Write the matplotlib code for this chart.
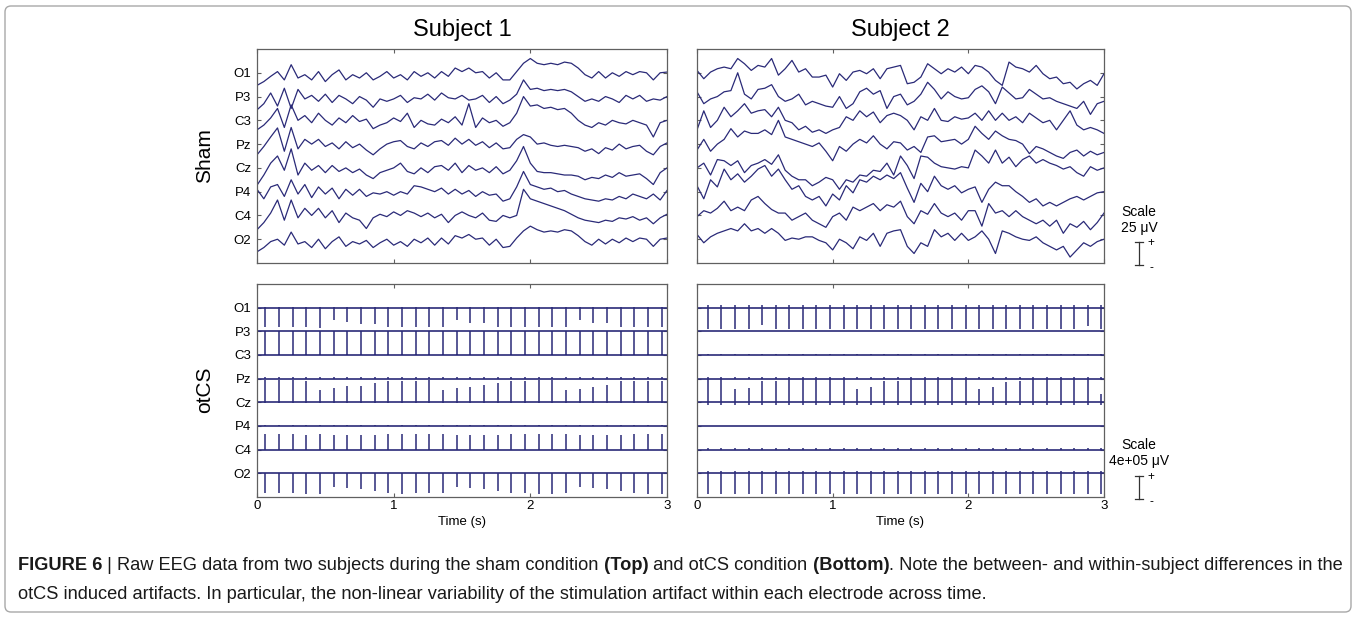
import numpy as np
import matplotlib
matplotlib.use("Agg")
import matplotlib.pyplot as plt
from matplotlib.patches import FancyBboxPatch
from matplotlib.lines import Line2D
from matplotlib.transforms import IdentityTransform

plt.rcParams['font.family'] = ['Liberation Sans', 'DejaVu Sans']

# ---------------- data ----------------
channels = ["O1", "P3", "C3", "Pz", "Cz", "P4", "C4", "O2"]
subjects = ["Subject 1", "Subject 2"]
conditions = ["Sham", "otCS"]
x_ticks = [0, 1, 2, 3]
duration = 3.0

# Sham EEG, deviation from channel baseline (in channel-spacing units), every 0.05 s
sham_s1_O1 = [-0.53,-0.37,-0.15,0.05,-0.3,0.34,-0.22,-0.08,-0.3,0.05,
              -0.37,-0.08,0.12,-0.3,-0.08,-0.22,0.0,-0.3,-0.15,0.05,
              -0.22,-0.08,-0.3,0.05,-0.15,0.0,-0.22,0.05,-0.15,0.2,
              0.05,0.2,0.0,0.05,-0.22,0.0,-0.3,-0.3,0.05,0.4,
              0.6,0.4,0.34,0.4,0.34,0.45,0.4,0.2,-0.08,-0.22,
              0.05,-0.22,0.0,-0.15,0.05,-0.08,0.05,0.0,-0.3,0.0,0.03]
sham_s1_P3 = [-0.56,-0.3,0.15,-0.4,0.35,-0.5,0.3,-0.1,0.05,-0.2,
              0.1,-0.25,0.05,-0.1,-0.3,0.0,-0.15,-0.45,-0.1,-0.2,
              -0.1,0.05,-0.25,-0.05,-0.1,0.1,-0.15,0.15,-0.05,-0.1,
              0.05,-0.15,-0.1,0.05,-0.25,0.0,-0.3,-0.15,0.1,0.7,
              0.3,0.35,0.25,0.3,0.25,0.3,0.2,0.0,-0.2,-0.1,
              -0.2,0.0,-0.1,-0.25,0.05,-0.1,0.05,-0.2,-0.1,-0.15,0.0]
sham_s1_C3 = [-0.4,-0.2,0.1,0.5,-0.3,0.65,0.0,0.2,-0.1,0.3,
              0.0,-0.2,0.1,-0.1,0.2,-0.05,0.05,-0.35,-0.2,-0.1,
              0.1,-0.05,0.3,-0.3,0.0,-0.15,-0.2,0.05,-0.1,0.15,
              -0.2,0.7,-0.3,0.1,-0.1,0.0,-0.25,-0.1,0.3,1.0,
              0.6,0.65,0.5,0.55,0.45,0.5,0.3,0.0,-0.2,-0.3,
              -0.1,-0.2,0.0,-0.1,-0.15,0.0,-0.1,-0.2,-0.7,-0.1,0.0]
sham_s1_Pz = [-0.45,-0.1,0.3,0.68,-0.3,0.7,-0.2,0.2,0.0,0.2,
              -0.1,0.05,-0.2,0.1,-0.15,0.0,-0.25,-0.45,-0.2,0.0,
              0.1,0.15,-0.1,-0.2,0.05,-0.1,0.1,0.15,-0.05,0.25,
              0.0,0.2,-0.05,0.1,-0.15,0.05,-0.2,-0.15,0.2,0.4,
              0.3,0.0,0.05,-0.05,-0.1,-0.05,-0.1,-0.15,-0.3,-0.2,
              -0.4,-0.15,-0.25,0.0,-0.2,-0.1,-0.05,-0.3,-0.45,-0.1,0.05]
sham_s1_Cz = [-0.73,-0.3,0.2,0.5,-0.1,0.8,-0.3,0.2,-0.1,0.1,
              -0.2,0.1,-0.15,0.0,-0.2,-0.05,-0.3,-0.45,-0.2,-0.1,
              0.0,0.2,-0.15,-0.25,0.0,-0.2,0.05,0.1,-0.1,0.2,
              -0.2,0.1,-0.1,0.0,-0.2,0.05,-0.25,-0.1,0.3,0.9,
              0.2,-0.15,-0.2,-0.2,-0.25,-0.3,-0.3,-0.35,-0.5,-0.4,
              -0.45,-0.3,-0.4,-0.2,-0.35,-0.3,-0.25,-0.45,-0.7,-0.2,0.0]
sham_s1_P4 = [0.1,-0.3,0.2,0.3,-0.2,0.5,-0.1,0.3,-0.25,0.2,
              -0.1,0.15,-0.3,0.1,-0.15,0.1,-0.2,-0.05,-0.1,0.0,
              -0.15,0.0,-0.1,0.25,0.2,0.1,0.0,0.15,-0.1,0.1,
              -0.1,0.05,-0.2,0.0,-0.15,-0.1,-0.4,-0.3,0.2,0.85,
              0.3,0.2,0.1,0.15,0.0,0.05,-0.1,-0.2,-0.3,-0.35,
              -0.4,-0.3,-0.35,-0.2,-0.3,-0.1,-0.2,-0.3,-0.1,-0.35,0.05]
sham_s1_C4 = [-0.6,-0.3,0.1,0.65,-0.2,0.65,-0.1,0.3,0.0,0.3,
              -0.1,0.2,-0.3,0.1,-0.1,-0.2,-0.55,-0.1,0.05,-0.05,
              0.15,0.0,0.2,0.1,-0.05,0.1,-0.1,0.05,-0.3,0.0,
              0.15,0.0,-0.1,0.1,-0.2,-0.25,0.0,-0.1,0.0,1.1,
              0.7,0.6,0.5,0.4,0.3,0.2,0.05,-0.1,-0.2,-0.25,
              -0.3,-0.2,-0.25,-0.1,-0.15,-0.05,-0.2,-0.1,-0.35,-0.1,0.05]
sham_s1_O2 = [-0.53,-0.35,-0.1,0.0,-0.25,0.3,-0.2,-0.1,-0.35,0.0,
              -0.4,-0.1,0.1,-0.3,-0.1,-0.2,-0.05,-0.35,-0.15,0.0,
              -0.25,-0.1,-0.3,0.0,-0.15,0.05,-0.25,0.05,-0.2,0.15,
              0.05,0.2,0.0,0.05,-0.25,0.0,-0.35,-0.3,0.05,0.35,
              0.55,0.4,0.3,0.35,0.3,0.4,0.35,0.15,-0.1,-0.25,
              0.0,-0.2,0.0,-0.15,0.05,-0.1,0.05,0.0,-0.3,0.0,0.05]

sham_s2_O1 = [0.1,-0.25,0.03,0.17,0.24,0.17,0.6,0.38,0.1,0.31,
              0.24,0.6,-0.1,0.17,0.52,0.03,0.17,-0.18,-0.18,-0.1,
              -0.6,-0.04,-0.32,0.03,0.1,-0.04,0.17,-0.25,0.17,0.24,0.31,
              -0.46,-0.4,-0.18,0.38,0.17,-0.04,0.17,0.03,0.24,-0.04,
              0.31,0.24,0.03,-0.32,-0.53,0.45,0.24,0.17,0.03,0.31,
              -0.04,-0.25,-0.18,-0.46,-0.4,-0.68,-0.46,-0.32,-0.53,-0.04]
sham_s2_P3 = [0.2,-0.3,-0.1,0.0,0.2,0.25,1.0,0.1,-0.1,0.3,
              0.35,0.5,0.0,-0.2,-0.1,0.1,-0.35,-0.2,-0.3,-0.4,
              -0.45,0.0,-0.5,-0.3,0.2,0.35,0.1,0.25,-0.5,0.0,0.1,
              -0.35,-0.2,0.1,0.6,0.3,-0.1,0.2,0.0,-0.1,-0.05,
              0.3,0.45,0.2,-0.3,0.4,0.15,-0.1,-0.05,0.3,0.1,
              -0.1,-0.05,-0.2,-0.3,-0.4,-0.5,-0.2,-0.75,-0.3,-0.2]
sham_s2_C3 = [-0.4,0.4,-0.3,0.0,0.55,0.15,0.4,0.7,0.3,0.4,
              0.45,0.15,0.55,0.0,-0.1,-0.4,-0.25,-0.5,-0.4,-0.55,
              -0.4,-0.3,0.15,0.0,0.4,0.15,0.35,-0.1,0.2,0.3,0.2,
              0.0,-0.4,0.15,0.0,0.5,0.0,-0.05,0.15,0.05,0.1,
              0.3,0.0,0.4,0.0,0.3,0.0,0.15,-0.1,0.3,0.1,
              -0.1,0.0,-0.4,0.0,0.4,-0.2,-0.4,-0.3,-0.4,-0.55]
sham_s2_Pz = [-0.25,0.2,-0.3,0.0,0.2,0.65,0.3,0.55,0.45,0.45,
              0.6,0.4,1.0,0.3,0.2,0.1,0.0,-0.1,0.05,-0.3,
              -0.7,-0.1,-0.3,0.0,0.2,0.05,0.35,0.0,-0.2,0.1,0.05,
              -0.25,-0.1,-0.35,0.3,0.35,0.1,0.15,0.2,0.0,0.2,
              0.75,0.45,0.2,0.55,0.35,0.2,0.15,0.0,-0.4,-0.1,
              -0.2,-0.35,-0.5,-0.6,-0.35,-0.25,-0.5,-0.3,-0.45,-0.35]
sham_s2_Cz = [0.0,0.2,-0.3,0.35,0.3,0.1,0.3,-0.2,0.1,0.2,
              0.35,0.15,0.55,-0.1,-0.35,-0.5,-0.5,-0.75,-0.6,-0.4,
              -0.5,-0.9,-0.5,-0.6,-0.3,-0.35,-0.1,-0.15,0.2,-0.3,0.5,
              0.1,-0.45,0.5,0.45,0.2,0.05,0.0,-0.05,0.05,0.0,
              0.75,0.5,0.2,0.75,0.2,0.45,0.05,0.35,0.5,0.2,
              0.35,0.2,0.1,-0.05,0.05,-0.2,-0.35,0.05,-0.1,0.0]
sham_s2_P4 = [0.25,-0.3,0.5,0.2,0.95,0.5,0.75,0.4,0.65,0.95,
              1.1,0.65,0.95,0.5,0.1,0.25,-0.2,-0.35,-0.2,-0.6,
              -0.1,-0.35,0.25,-0.05,0.5,0.4,0.65,0.5,0.7,0.55,0.8,
              0.15,-0.45,0.35,0.0,0.65,0.25,0.1,0.25,-0.05,0.1,
              0.2,-0.45,0.1,0.4,0.25,0.25,0.0,-0.2,-0.45,-0.3,
              -0.6,-0.45,-0.6,-0.45,-0.3,-0.2,-0.35,-0.2,-0.05,0.0]
sham_s2_C4 = [-0.05,0.2,0.1,0.3,0.6,0.2,0.35,0.2,0.65,0.8,
              0.5,0.25,0.1,0.1,-0.2,-0.05,0.1,-0.2,-0.35,-0.5,
              -0.05,0.1,-0.2,0.35,0.2,0.35,0.5,0.2,0.45,0.35,0.6,
              -0.05,-0.35,0.2,0.05,0.5,0.1,-0.05,0.1,-0.2,0.2,
              0.2,-0.45,0.5,0.1,0.2,-0.05,0.2,-0.05,-0.2,-0.35,
              -0.2,-0.45,-0.2,-0.75,-0.35,-0.5,-0.25,-0.6,-0.3,0.1]
sham_s2_O2 = [0.2,-0.15,0.1,0.25,0.35,0.45,0.35,0.65,0.35,0.45,
              0.25,0.45,0.25,-0.05,0.05,0.0,0.1,0.1,-0.05,-0.15,
              -0.45,0.0,-0.15,-0.4,0.1,-0.05,0.25,-0.3,0.25,0.35,0.4,
              -0.3,-0.6,-0.15,-0.3,0.4,0.1,0.25,-0.05,0.25,-0.05,
              0.1,0.35,0.0,-0.6,0.35,0.25,0.1,0.0,-0.05,0.1,
              -0.15,-0.3,-0.45,-0.3,-0.75,-0.45,-0.15,-0.3,-0.1,0.0]

# otCS stimulation pulses: times (s) and signed artifact size per channel (channel-spacing units)
pulse_times_s1 = [0.06,0.16,0.26,0.36,0.46,0.56,0.66,0.76,0.86,0.96,
                  1.06,1.16,1.26,1.36,1.46,1.56,1.66,1.76,1.86,1.96,
                  2.06,2.16,2.26,2.36,2.46,2.56,2.66,2.76,2.86,2.96]
pulse_times_s2 = [0.08,0.18,0.28,0.38,0.48,0.58,0.68,0.78,0.88,0.98,
                  1.08,1.18,1.28,1.38,1.48,1.58,1.68,1.78,1.88,1.98,
                  2.08,2.18,2.28,2.38,2.48,2.58,2.68,2.78,2.88,2.98]

otcs_s1_O1 = [-0.82,-0.82,-0.82,-0.82,-0.86,-0.5,-0.6,-0.68,-0.68,-0.82,
              -0.82,-0.82,-0.82,-0.82,-0.53,-0.65,-0.65,-0.8,-0.82,-0.82,
              -0.82,-0.82,-0.82,-0.53,-0.65,-0.65,-0.82,-0.82,-0.82,-0.82]
otcs_s1_P3 = [-1.02,-1.02,-1.0,-1.02,-1.02,-1.0,-1.02,-1.02,-1.02,-1.0,
              -1.02,-1.02,-1.0,-1.02,-1.02,-1.02,-1.0,-1.02,-1.02,-1.02,
              -1.0,-1.02,-1.02,-1.02,-1.0,-1.02,-1.05,-1.02,-1.02,-1.02]
otcs_s1_C3 = [0.03,0.03,0.03,0.03,0.03,0.03,0.03,0.03,0.03,0.03,
              0.03,0.03,0.03,0.03,0.03,0.03,0.03,0.03,0.03,0.03,
              0.03,0.03,0.03,0.03,0.03,0.03,0.03,0.03,0.03,0.03]
otcs_s1_Pz = [0.07,0.07,0.07,0.07,0.07,0.07,0.07,0.07,0.07,0.07,
              0.07,0.07,0.07,0.07,0.07,0.07,0.07,0.07,0.07,0.07,
              0.07,0.07,0.07,0.07,0.07,0.07,0.07,0.07,0.07,0.07]
otcs_s1_Cz = [0.96,0.96,0.96,0.92,0.54,0.6,0.68,0.7,0.82,0.92,
              0.92,0.92,0.96,0.54,0.6,0.65,0.75,0.82,0.89,0.92,
              0.96,0.96,0.54,0.56,0.65,0.75,0.89,0.92,0.92,0.92]
otcs_s1_P4 = [0.05,0.05,0.05,0.05,0.05,0.05,0.05,0.05,0.05,0.05,
              0.05,0.05,0.05,0.05,0.05,0.05,0.05,0.05,0.05,0.05,
              0.05,0.05,0.05,0.05,0.05,0.05,0.05,0.05,0.05,0.05]
otcs_s1_C4 = [0.65,0.65,0.65,0.62,0.66,0.6,0.62,0.62,0.64,0.65,
              0.66,0.65,0.65,0.66,0.6,0.62,0.62,0.64,0.65,0.66,
              0.65,0.65,0.66,0.6,0.62,0.62,0.64,0.65,0.66,0.66]
otcs_s1_O2 = [-0.81,-0.81,-0.81,-0.86,-0.89,-0.57,-0.63,-0.67,-0.74,-0.81,
              -0.86,-0.81,-0.84,-0.81,-0.57,-0.63,-0.67,-0.74,-0.81,-0.81,
              -0.86,-0.89,-0.81,-0.57,-0.63,-0.67,-0.74,-0.81,-0.86,-0.86]

otcs_s2_O1 = [-0.92,-0.92,-0.9,-0.9,-0.75,-0.92,-0.92,-0.92,-0.92,-0.92,
              -0.92,-0.92,-0.92,-0.9,-0.92,-0.92,-0.92,-0.92,-0.92,-0.92,
              -0.92,-0.92,-0.92,-0.92,-0.92,-0.92,-0.92,-0.92,-0.79,-0.92]
otcs_s2_P3 = [0.0,0.0,0.0,0.0,0.0,0.0,0.0,0.0,0.0,0.0,
              0.0,0.0,0.0,0.0,0.0,0.0,0.0,0.0,0.0,0.0,
              0.0,0.0,0.0,0.0,0.0,0.0,0.0,0.0,0.0,0.0]
otcs_s2_C3 = [0.04,0.04,0.04,0.04,0.04,0.04,0.04,0.04,0.04,0.04,
              0.04,0.04,0.04,0.04,0.04,0.04,0.04,0.04,0.04,0.04,
              0.04,0.04,0.04,0.04,0.04,0.04,0.04,0.04,0.04,0.04]
otcs_s2_Pz = [0.05,0.05,0.05,0.05,0.05,0.05,0.05,0.05,0.05,0.05,
              0.05,0.05,0.05,0.05,0.05,0.05,0.05,0.05,0.05,0.05,
              0.05,0.05,0.05,0.05,0.05,0.05,0.05,0.05,0.05,0.05]
otcs_s2_Cz = [1.0,1.0,0.56,0.6,0.92,0.92,1.0,1.0,1.0,1.0,
              1.0,0.56,0.63,0.92,0.92,0.99,1.0,1.0,1.0,1.0,
              0.56,0.63,0.85,0.92,0.99,1.0,1.0,1.0,1.0,0.35]
otcs_s2_P4 = [0.0,0.0,0.0,0.0,0.0,0.0,0.0,0.0,0.0,0.0,
              0.0,0.0,0.0,0.0,0.0,0.0,0.0,0.0,0.0,0.0,
              0.0,0.0,0.0,0.0,0.0,0.0,0.0,0.0,0.0,0.0]
otcs_s2_C4 = [0.05,0.05,0.05,0.05,0.05,0.05,0.05,0.05,0.05,0.05,
              0.05,0.05,0.05,0.05,0.05,0.05,0.05,0.05,0.05,0.05,
              0.05,0.05,0.05,0.05,0.05,0.05,0.05,0.05,0.05,0.05]
otcs_s2_O2 = [-0.88,-0.88,-0.87,-0.88,-0.88,-0.86,-0.88,-0.88,-0.88,-0.87,
              -0.88,-0.88,-0.86,-0.88,-0.88,-0.88,-0.87,-0.88,-0.88,-0.88,
              -0.86,-0.88,-0.88,-0.88,-0.87,-0.88,-0.88,-0.88,-0.88,-0.88]

scale_labels = ["Scale\n25 \u03bcV", "Scale\n4e+05 \u03bcV"]

caption_line1 = [("FIGURE 6", True),
                 (" | Raw EEG data from two subjects during the sham condition", False),
                 (" (Top)", True),
                 (" and otCS condition", False),
                 (" (Bottom)", True),
                 (". Note the between- and within-subject differences in the", False)]
caption_line2 = [("otCS induced artifacts. In particular, the non-linear variability of the "
                  "stimulation artifact within each electrode across time.", False)]

sham = [[sham_s1_O1, sham_s1_P3, sham_s1_C3, sham_s1_Pz, sham_s1_Cz, sham_s1_P4, sham_s1_C4, sham_s1_O2],
        [sham_s2_O1, sham_s2_P3, sham_s2_C3, sham_s2_Pz, sham_s2_Cz, sham_s2_P4, sham_s2_C4, sham_s2_O2]]
otcs = [[otcs_s1_O1, otcs_s1_P3, otcs_s1_C3, otcs_s1_Pz, otcs_s1_Cz, otcs_s1_P4, otcs_s1_C4, otcs_s1_O2],
        [otcs_s2_O1, otcs_s2_P3, otcs_s2_C3, otcs_s2_Pz, otcs_s2_Cz, otcs_s2_P4, otcs_s2_C4, otcs_s2_O2]]
pulse_times = [pulse_times_s1, pulse_times_s2]

# ---------------- style / layout ----------------
W, H = 1357, 619
TRACE = '#2a2a78'
SPINE = '#606060'
fig = plt.figure(figsize=(W / 100, H / 100), dpi=100)

def fx(x):
    return x / W

def fy(y):
    return 1 - y / H

axes_px = {(0, 0): (257, 49, 667, 263), (0, 1): (697, 49, 1104, 263),
           (1, 0): (257, 284, 667, 497), (1, 1): (697, 284, 1104, 497)}
overshoot = [0.03, 0.1]

n = len(channels)
baselines = np.arange(n, 0, -1)

for (r, c), (x0, y0, x1, y1) in axes_px.items():
    ax = fig.add_axes([fx(x0), fy(y1), (x1 - x0) / W, (y1 - y0) / H])
    ax.set_xlim(0, duration)
    ax.set_ylim(0, n + 1)
    if r == 0:
        for i in range(n):
            vals = np.asarray(sham[c][i], dtype=float)
            t = np.linspace(0, duration, len(vals))
            ax.plot(t, baselines[i] + vals, color=TRACE, lw=0.9)
    else:
        pt = np.asarray(pulse_times[c])
        for i in range(n):
            b = baselines[i]
            amps = np.asarray(otcs[c][i], dtype=float)
            ax.plot([0, duration], [b, b], color=TRACE, lw=1.2)
            big = np.abs(amps) > 0.3
            lo = b - np.sign(amps) * np.where(big, overshoot[c], 0.0)
            hi = b + amps
            ax.vlines(pt, lo, hi, color=TRACE, lw=1.1)
    for s in ax.spines.values():
        s.set_color(SPINE)
        s.set_linewidth(0.9)
    ax.set_xticks(x_ticks)
    ax.set_yticks(baselines)
    ax.tick_params(direction='in', length=3, width=0.8, color=SPINE,
                   top=True, right=True, labelsize=9.5, pad=2.5)
    if c == 0:
        ax.set_yticklabels(channels)
        ax.tick_params(axis='y', pad=4)
    else:
        ax.set_yticklabels([])
    if r == 1:
        ax.set_xticklabels([str(v) for v in x_ticks])
    else:
        ax.set_xticklabels([])

# titles, condition labels, axis labels
fig.text(fx(462), fy(30), subjects[0], fontsize=17, ha='center', va='center')
fig.text(fx(900), fy(30), subjects[1], fontsize=17, ha='center', va='center')
fig.text(fx(205), fy(156), conditions[0], fontsize=15, ha='center', va='center', rotation=90)
fig.text(fx(205), fy(390), conditions[1], fontsize=15, ha='center', va='center', rotation=90)
fig.text(fx(462), fy(522), "Time (s)", fontsize=9.5, ha='center', va='center')
fig.text(fx(900), fy(522), "Time (s)", fontsize=9.5, ha='center', va='center')

# scale bars
for lab, (ytxt, yb0, yb1) in zip(scale_labels, [(220, 242, 265), (453, 476, 499)]):
    fig.text(fx(1139), fy(ytxt), lab, fontsize=10, ha='center', va='center', linespacing=1.1)
    xb = 1139
    fig.add_artist(Line2D([fx(xb), fx(xb)], [fy(yb0), fy(yb1)], color='#333333', lw=0.9))
    for yy in (yb0, yb1):
        fig.add_artist(Line2D([fx(xb - 4), fx(xb + 4)], [fy(yy), fy(yy)], color='#333333', lw=0.9))
    fig.text(fx(1151), fy(yb0 + 1), "+", fontsize=8.5, ha='center', va='center')
    fig.text(fx(1151), fy(yb1 + 3), "-", fontsize=8.5, ha='center', va='center')

# outer border
fig.add_artist(FancyBboxPatch((5, H - 612), 1346, 606, boxstyle="round,pad=0,rounding_size=6",
                              transform=IdentityTransform(), fill=False,
                              edgecolor='#a8a8a8', lw=1.0))

# caption with mixed weights
fig.canvas.draw()
renderer = fig.canvas.get_renderer()

def rich_line(x_px, y_px, parts, size):
    x = x_px
    for txt, bold in parts:
        t = fig.text(fx(x), fy(y_px), txt, fontsize=size,
                     fontweight='bold' if bold else 'normal',
                     ha='left', va='baseline', color='#1a1a1a')
        bb = t.get_window_extent(renderer)
        x += bb.width

rich_line(18, 570, caption_line1, 13.15)
rich_line(18, 599, caption_line2, 13.15)

fig.savefig("out.png", dpi=100)
